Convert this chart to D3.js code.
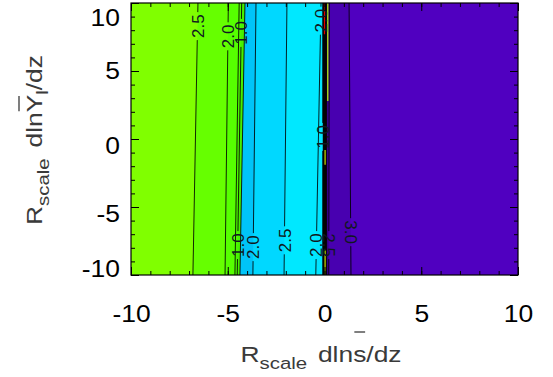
<!DOCTYPE html>
<html><head><meta charset="utf-8">
<script src="https://cdn.jsdelivr.net/npm/d3@7"></script>
<style>body{margin:0;background:#fff} svg{display:block}</style>
</head><body>
<svg id="c" width="553" height="377"></svg>
<script>
// ---------- data ----------
const xDomain = [-10, 10];
const yDomain = [-10, 10];
const xTickValues = [-10, -5, 0, 5, 10];
const yTickValues = [-10, -5, 0, 5, 10];
// contour lines: x value where each line meets the top (y=10) and bottom (y=-10) of the box
const lineTop    = [-6.54, -4.97, -4.41, -4.28, -4.11, -3.54, -1.94, -0.18, -0.09, -0.04, 0.01, 0.06, 0.11, 0.25, 1.27];
const lineBottom = [-6.80, -5.14, -4.63, -4.51, -4.37, -3.70, -2.09, -0.45, -0.09, -0.04, 0.01, 0.06, 0.11, 0.22, 1.37];
const lineLevel  = [2.5, 2.0, 1.5, 1.0, 0.5, 2.0, 2.5, 2.0, 1.0, 1.5, 2.0, 2.5, 3.0, 2.5, 3.0];
// contour labels: which line, at which y, reading up (-1) or down (+1)
const labelLine = [0, 1, 3, 3, 5, 6, 7, 7, 8, 13, 14];
const labelY    = [8.3, 7.55, 7.8, -7.8, -7.95, -7.45, -7.8, 8.7, 0.15, -7.8, -6.85];
const labelDir  = [-1, -1, -1, -1, -1, -1, -1, -1, -1, 1, 1];
// short coloured contour pieces near x = 0
const accentX  = [0.0, 0.17, 0.03, 0.03];
const accentY0 = [10, 10, -0.8, -8.2];
const accentY1 = [7.7, 2.8, -1.9, -10];

// ---------- layout / style ----------
const box = {l: 131, r: 518, t: 3, b: 275};
const bandPalette = ["#80ff00", "#66ff00", "#56ff00", "#4ef800", "#46f000",
  "#00c4f8", "#00d8ff", "#00e8ff", "#00e4ff", "#101010", "#101010", "#101010", "#101010",
  "#3c0098", "#4800b0", "#5000c0"];
const accentColor = ["#e00000", "#b4ff00", "#d0e000", "#d0e000"];

const x = d3.scaleLinear().domain(xDomain).range([box.l, box.r]);
const y = d3.scaleLinear().domain(yDomain).range([box.b, box.t]);
const bandColor = d3.scaleOrdinal().domain(d3.range(bandPalette.length)).range(bandPalette);

const svg = d3.select("#c");
svg.append("defs").append("clipPath").attr("id", "clip")
  .append("rect").attr("x", box.l).attr("y", box.t)
  .attr("width", box.r - box.l).attr("height", box.b - box.t);
const plot = svg.append("g").attr("clip-path", "url(#clip)");

// filled bands (each from its left contour to the right edge, painted in order)
const edgeTop = [xDomain[0] - 1, ...lineTop];
const edgeBot = [xDomain[0] - 1, ...lineBottom];
edgeTop.forEach((_, i) => {
  const pts = [[edgeBot[i], yDomain[0]], [edgeTop[i], yDomain[1]],
               [xDomain[1] + 1, yDomain[1]], [xDomain[1] + 1, yDomain[0]]];
  plot.append("path")
    .attr("d", "M" + pts.map(p => [x(p[0]), y(p[1])].join(",")).join("L") + "Z")
    .attr("fill", bandColor(i));
});

function lineX(i, yv) {
  const t = (yv - yDomain[0]) / (yDomain[1] - yDomain[0]);
  return lineBottom[i] + (lineTop[i] - lineBottom[i]) * t;
}
const line = d3.line().x(d => x(d[0])).y(d => y(d[1]));
const gapHalf = 14 / (y(0) - y(1)); // px -> data units

lineTop.forEach((_, i) => {
  const gaps = labelLine.map((l, k) => l === i ? labelY[k] : null).filter(v => v !== null).sort((a, b) => a - b);
  let y0 = yDomain[0];
  const segs = [];
  gaps.forEach(g => { segs.push([y0, g - gapHalf]); y0 = g + gapHalf; });
  segs.push([y0, yDomain[1]]);
  segs.forEach(s => {
    if (s[1] <= s[0]) return;
    plot.append("path").attr("d", line([[lineX(i, s[0]), s[0]], [lineX(i, s[1]), s[1]]]))
      .attr("fill", "none").attr("stroke", "#000").attr("stroke-width", 1).attr("stroke-opacity", 0.85);
  });
});

accentX.forEach((ax, i) => {
  plot.append("path").attr("d", line([[ax, accentY0[i]], [ax, accentY1[i]]]))
    .attr("stroke", accentColor[i]).attr("stroke-width", 1.2).attr("fill", "none");
});

labelLine.forEach((li, k) => {
  const px = x(lineX(li, labelY[k])), py = y(labelY[k]);
  plot.append("text")
    .attr("transform", `translate(${px},${py}) rotate(${labelDir[k] * 90})`)
    .attr("text-anchor", "middle").attr("dy", "0.36em")
    .attr("font-family", "Liberation Sans, Arial, Helvetica, sans-serif")
    .attr("font-size", 17).attr("fill", "#101820")
    .text(lineLevel[li].toFixed(1));
});

// ---------- axes ----------
const font = "Liberation Sans, Arial, Helvetica, sans-serif";
const minorX = d3.range(-10, 11, 1), minorY = d3.range(-10, 11, 1);
function styleAxis(g) { g.select(".domain").remove(); g.selectAll("line").attr("stroke", "#000"); }
const fmt = d => String(d);

svg.append("g").attr("transform", `translate(0,${box.b})`)
  .call(d3.axisBottom(x).tickValues(minorX).tickSize(-4).tickFormat("")).call(styleAxis);
svg.append("g").attr("transform", `translate(0,${box.t})`)
  .call(d3.axisTop(x).tickValues(minorX).tickSize(-4).tickFormat("")).call(styleAxis);
svg.append("g").attr("transform", `translate(${box.l},0)`)
  .call(d3.axisLeft(y).tickValues(minorY).tickSize(-4).tickFormat("")).call(styleAxis);
svg.append("g").attr("transform", `translate(${box.r},0)`)
  .call(d3.axisRight(y).tickValues(minorY).tickSize(-4).tickFormat("")).call(styleAxis);

const xAx = svg.append("g").attr("transform", `translate(0,${box.b})`)
  .call(d3.axisBottom(x).tickValues(xTickValues).tickSize(-8).tickPadding(31).tickFormat(fmt))
  .call(styleAxis);
svg.append("g").attr("transform", `translate(0,${box.t})`)
  .call(d3.axisTop(x).tickValues(xTickValues).tickSize(-8).tickFormat("")).call(styleAxis);
const yAx = svg.append("g").attr("transform", `translate(${box.l},0)`)
  .call(d3.axisLeft(y).tickValues(yTickValues).tickSize(-8).tickPadding(11).tickFormat(fmt))
  .call(styleAxis);
svg.append("g").attr("transform", `translate(${box.r},0)`)
  .call(d3.axisRight(y).tickValues(yTickValues).tickSize(-8).tickFormat("")).call(styleAxis);

[xAx, yAx].forEach(g => g.selectAll("text")
  .attr("font-family", font).attr("font-size", 23).attr("fill", "#000")
  .each(function () {
    const w = this.getComputedTextLength();
    d3.select(this).attr("textLength", w * 1.15).attr("lengthAdjust", "spacingAndGlyphs");
  }));
// IDL-style label placement on the y axis (edge labels pulled inside)
const yShift = {"-10": -7, "-5": 6, "0": 6, "5": -1, "10": 14};
yAx.selectAll(".tick text").attr("dy", function (d) { return (8 + yShift[d]) + "px"; });

svg.append("rect").attr("x", box.l).attr("y", box.t)
  .attr("width", box.r - box.l).attr("height", box.b - box.t)
  .attr("fill", "none").attr("stroke", "#000").attr("stroke-width", 1.2);

// ---------- titles ----------
function title(g, parts, overIdx, overY) {
  const t = g.append("text").attr("font-family", font).attr("fill", "#3a3a3a").attr("text-anchor", "middle");
  parts.forEach(p => t.append("tspan").attr("font-size", p.fs).attr("dy", p.dy || 0).attr("dx", p.dx || 0).text(p.s));
  const n = parts.slice(0, overIdx).reduce((a, p) => a + p.s.length, 0);
  const e = t.node().getExtentOfChar(n);
  g.append("line").attr("x1", e.x + 1).attr("x2", e.x + e.width - 1)
    .attr("y1", overY).attr("y2", overY).attr("stroke", "#3a3a3a").attr("stroke-width", 1.3);
}
const gx = svg.append("g").attr("transform", "translate(321,362) scale(1.2,1)");
title(gx, [{s: "R", fs: 22}, {s: "scale", fs: 17, dy: 7}, {s: "dln", fs: 22, dy: -7, dx: 9},
           {s: "s", fs: 22}, {s: "/dz", fs: 22}], 3, -30);
const gy = svg.append("g").attr("transform", "translate(42,140) rotate(-90) scale(1.2,1)");
title(gy, [{s: "R", fs: 22}, {s: "scale", fs: 17, dy: 7}, {s: "dln", fs: 22, dy: -7, dx: 9},
           {s: "Y", fs: 22}, {s: "l", fs: 17, dy: 6}, {s: "/dz", fs: 22, dy: -6}], 3, -23);
</script>
</body></html>
